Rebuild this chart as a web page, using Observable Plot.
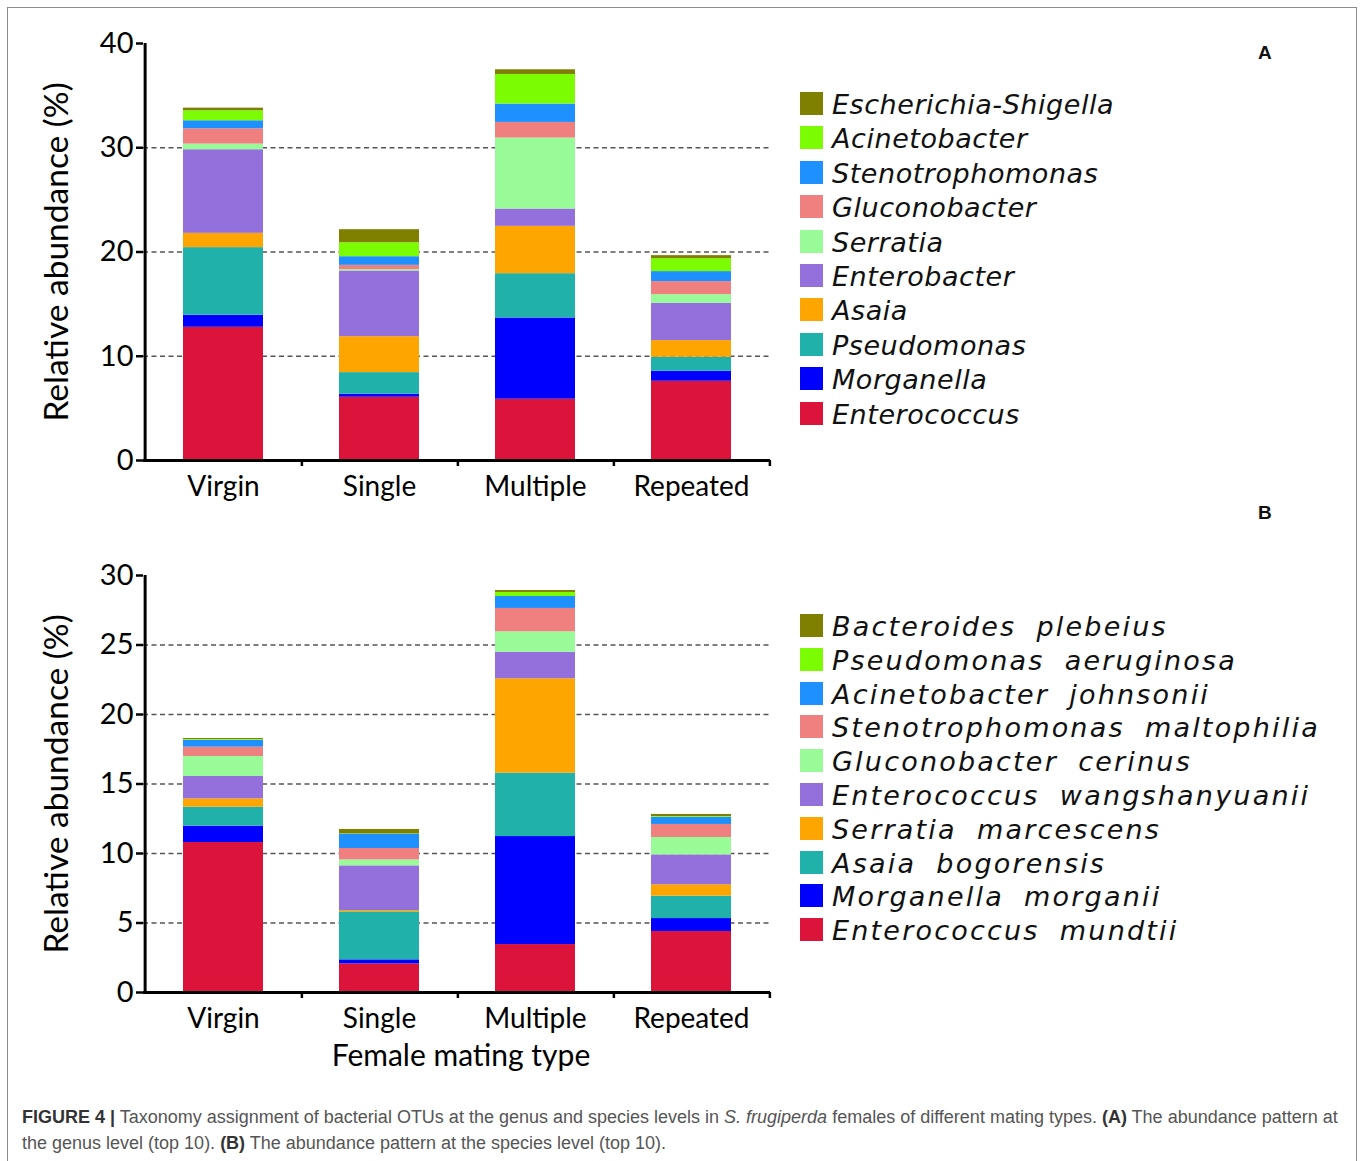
<!DOCTYPE html>
<html>
<head>
<meta charset="utf-8">
<script src="https://cdn.jsdelivr.net/npm/d3@7"></script>
<script src="https://cdn.jsdelivr.net/npm/@observablehq/plot@0.6"></script>
<style>
  html, body { margin: 0; padding: 0; background: #fff; }
  body { width: 1360px; height: 1161px; overflow: hidden; position: relative; font-family: Lato, "Open Sans", sans-serif; }
  #frame { position: absolute; left: 7px; top: 7px; width: 1350px; height: 1190px; border: 1.5px solid #8c8c8c; box-sizing: border-box; }
  .panel { position: absolute; left: 0; }
  .legend { position: absolute; left: 800px; }
  .item { position: absolute; left: 0; height: 23px; }
  .sw { position: absolute; left: 0; top: 0; width: 23px; height: 23px; }
  .lab { position: absolute; left: 32px; top: 1px; line-height: 23px; font-family: "DejaVu Sans", Verdana, sans-serif; font-style: italic; font-size: 27px; white-space: nowrap; color: #111; letter-spacing: 0.55px; }
  .legendB .lab { word-spacing: 0.35em; letter-spacing: 2.2px; }
  .tag { position: absolute; left: 1258px; font: bold 19px "Liberation Sans", Arial, sans-serif; color: #111; }
  #caption { position: absolute; left: 22px; top: 1104px; font: 18px "Liberation Sans", Arial, sans-serif; color: #555; line-height: 26px; white-space: nowrap; }
  #caption b { color: #333; }
</style>
</head>
<body>
<div id="frame"></div>
<div id="panelA" class="panel" style="top:0"></div>
<div id="panelB" class="panel" style="top:530px"></div>
<div id="legendA" class="legend" style="top:92px"></div>
<div id="legendB" class="legend legendB" style="top:614px"></div>
<div class="tag" style="top:42px">A</div>
<div class="tag" style="top:502px">B</div>
<div id="caption"><b>FIGURE 4 |</b> Taxonomy assignment of bacterial OTUs at the genus and species levels in <i>S. frugiperda</i> females of different mating types. <b>(A)</b> The abundance pattern at<br>the genus level (top 10). <b>(B)</b> The abundance pattern at the species level (top 10).</div>
<script>
// Female mating types (x categories)
const matingTypes = ["Virgin", "Single", "Multiple", "Repeated"];

// Genus level (top 10), listed from the bottom of each stack to the top
const genera = ["Enterococcus", "Morganella", "Pseudomonas", "Asaia", "Enterobacter",
  "Serratia", "Gluconobacter", "Stenotrophomonas", "Acinetobacter", "Escherichia-Shigella"];
// Relative abundance (%) of each genus, in the order of `genera`
const genusVirgin   = [12.78, 1.15, 6.49, 1.37, 8.02, 0.54, 1.47, 0.77, 0.96, 0.25];
const genusSingle   = [6.07, 0.29, 2.07, 3.45, 6.30, 0.13, 0.41, 0.83, 1.34, 1.25];
const genusMultiple = [5.88, 7.79, 4.25, 4.54, 1.66, 6.81, 1.50, 1.76, 2.84, 0.45];
const genusRepeated = [7.60, 0.96, 1.34, 1.60, 3.58, 0.83, 1.25, 0.96, 1.24, 0.29];

// Species level (top 10), bottom of each stack to the top
const species = ["Enterococcus mundtii", "Morganella morganii", "Asaia bogorensis", "Serratia marcescens",
  "Enterococcus wangshanyuanii", "Gluconobacter cerinus", "Stenotrophomonas maltophilia",
  "Acinetobacter johnsonii", "Pseudomonas aeruginosa", "Bacteroides plebeius"];
const speciesVirgin   = [10.79, 1.18, 1.36, 0.60, 1.61, 1.44, 0.67, 0.50, 0.05, 0.07];
const speciesSingle   = [2.06, 0.29, 3.45, 0.10, 3.21, 0.43, 0.82, 1.03, 0.02, 0.32];
const speciesMultiple = [3.45, 7.77, 4.56, 6.79, 1.91, 1.47, 1.68, 0.86, 0.29, 0.14];
const speciesRepeated = [4.39, 0.93, 1.61, 0.82, 2.15, 1.25, 0.94, 0.52, 0.05, 0.15];

// Stack colours, bottom to top
const palette = ["#dc143c", "#0000ff", "#20b2aa", "#ffa500", "#9370db",
  "#98fb98", "#f08080", "#1e90ff", "#7cfc00", "#808000"];

// Axis ticks
const genusTicks = [0, 10, 20, 30, 40];
const genusGrid = [10, 20, 30];
const speciesTicks = [0, 5, 10, 15, 20, 25, 30];
const speciesGrid = [5, 10, 15, 20, 25];

function tidy(taxa, columns) {
  const rows = [];
  matingTypes.forEach((type, j) => {
    taxa.forEach((taxon, i) => rows.push({type, taxon, value: columns[j][i]}));
  });
  return rows;
}

const W = 790, ML = 143, MR = 20;
const halfStep = (W - ML - MR) / matingTypes.length / 2;

function panel({taxa, columns, yMax, ticks, grid, height, marginTop, marginBottom, xLabel}) {
  const rows = tidy(taxa, columns);
  const marks = [
    Plot.ruleY(grid, {stroke: "#555", strokeWidth: 1.3, strokeDasharray: "5,3.5"}),
    Plot.barY(rows, {x: "type", y: "value", fill: "taxon"}),
    Plot.ruleY([0], {strokeWidth: 3, stroke: "#000"}),
    Plot.ruleX([matingTypes[0]], {x: d => d, y1: 0, y2: yMax, dx: -halfStep, strokeWidth: 3, stroke: "#000"}),
    Plot.ruleX(matingTypes, {x: d => d, y1: 0, y2: 0, insetBottom: -6, dx: halfStep, strokeWidth: 2.5, stroke: "#000"}),
    Plot.axisY({ticks, tickSize: 7, tickPadding: 3, fontSize: 29, strokeWidth: 2.5, label: null, tickFormat: d => String(d), stroke: "#000", color: "#000"}),
    Plot.axisX({tickSize: 0, tickPadding: 16, fontSize: 28, label: null, color: "#000"}),
    Plot.text(["Relative abundance (%)"], {frameAnchor: "left", dx: -86, rotate: -90, fontSize: 33.5, textAnchor: "middle", lineAnchor: "middle", fill: "#000"})
  ];
  if (xLabel) marks.push(Plot.text([xLabel], {frameAnchor: "bottom", dx: 4, dy: 52, lineAnchor: "top", fontSize: 30, fill: "#000"}));
  return Plot.plot({
    width: W, height, marginLeft: ML, marginRight: MR, marginTop, marginBottom,
    style: {fontFamily: "Lato, 'Open Sans', sans-serif", background: "transparent", overflow: "visible"},
    x: {domain: matingTypes, paddingInner: 0.49, paddingOuter: 0.245},
    y: {domain: [0, yMax]},
    color: {domain: taxa, range: palette},
    marks
  });
}

document.getElementById("panelA").append(panel({
  taxa: genera, columns: [genusVirgin, genusSingle, genusMultiple, genusRepeated],
  yMax: 40, ticks: genusTicks, grid: genusGrid, height: 520, marginTop: 43, marginBottom: 60
}));
document.getElementById("panelB").append(panel({
  taxa: species, columns: [speciesVirgin, speciesSingle, speciesMultiple, speciesRepeated],
  yMax: 30, ticks: speciesTicks, grid: speciesGrid, height: 560, marginTop: 45, marginBottom: 98,
  xLabel: "Female mating type"
}));

// Legends list the taxa top to bottom, matching the stacks
function legend(id, taxa, spacing) {
  const box = document.getElementById(id);
  taxa.map((t, i) => ({t, c: palette[i]})).reverse().forEach((d, k) => {
    const item = document.createElement("div");
    item.className = "item";
    item.style.top = (k * spacing) + "px";
    const sw = document.createElement("div");
    sw.className = "sw";
    sw.style.background = d.c;
    const lab = document.createElement("div");
    lab.className = "lab";
    lab.textContent = d.t;
    item.append(sw, lab);
    box.append(item);
  });
}
legend("legendA", genera, 34.4);
legend("legendB", species, 33.8);
</script>
</body>
</html>
